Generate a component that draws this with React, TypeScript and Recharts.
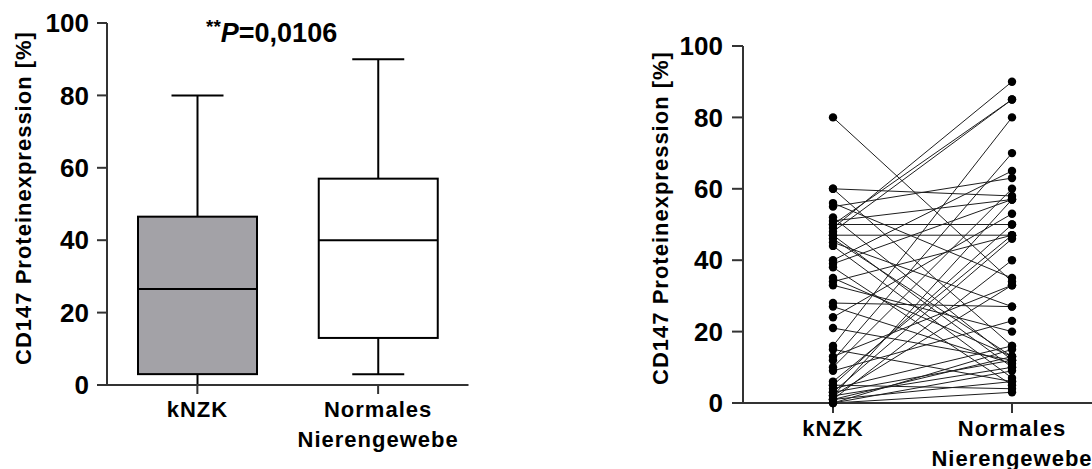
import React from 'react'
import { ComposedChart, LineChart, Bar, Line, XAxis, YAxis } from 'recharts'

// Gruppen und Boxplot-Kennwerte (Min, Q1, Median, Q3, Max) in %
const groups = ['kNZK', 'Normales Nierengewebe']
const boxMin = [0, 3]
const boxQ1 = [3, 13]
const boxMedian = [26.5, 40]
const boxQ3 = [46.5, 57]
const boxMax = [80, 90]
const boxFills = ['#a3a2a7', '#ffffff']

const yTicks = [0, 20, 40, 60, 80, 100]
const pValueText = '=0,0106'

// gepaarte Werte je Patient: Tumor (kNZK) und Normalgewebe
const pairedKnzk = [
  80, 60, 60, 56, 55, 52, 51, 50, 50, 49, 48, 47, 47, 46, 45, 44,
  40, 39, 38, 35, 34, 33, 28, 27, 24, 21, 16, 15, 13, 12, 10, 9,
  6, 5, 5, 4, 3, 3, 2, 2, 2, 1, 1, 1, 0, 0, 0,
]
const pairedNormal = [
  34, 58, 16, 35, 63, 12, 57, 50, 85, 90, 85, 47, 10, 13, 27, 7,
  65, 57, 5, 13, 47, 20, 27, 11, 53, 12, 80, 6, 33, 70, 60, 23,
  47, 4, 50, 16, 46, 12, 57, 33, 10, 40, 13, 6, 3, 9, 15,
]

const FONT = '"Liberation Sans", Arial, Helvetica, sans-serif'
const AXIS = '#333333'
const TITLE = 'CD147 Proteinexpression [%]'

const boxRows = groups.map((g, i) => ({
  group: g,
  min: boxMin[i],
  q1: boxQ1[i],
  median: boxMedian[i],
  q3: boxQ3[i],
  max: boxMax[i],
  fill: boxFills[i],
  iqr: [boxQ1[i], boxQ3[i]],
}))

const pairRows = groups.map((g, gi) => {
  const row: Record<string, string | number> = { group: g }
  const src = gi === 0 ? pairedKnzk : pairedNormal
  src.forEach((v, i) => {
    row[`p${i}`] = v
  })
  return row
})

interface BoxProps {
  x?: number
  y?: number
  width?: number
  height?: number
  payload?: (typeof boxRows)[number]
}

// Box mit Median und Whiskern; Pixel pro Einheit aus der Balkenhoehe (Q1..Q3)
const BoxShape = ({ x = 0, y = 0, width = 0, height = 0, payload }: BoxProps) => {
  if (!payload) return null
  const top = Math.min(y, y + height)
  const h = Math.abs(height)
  const unit = h / (payload.q3 - payload.q1)
  const toY = (v: number) => top + (payload.q3 - v) * unit
  const cx = x + width / 2
  const cap = 26
  return (
    <g stroke="#000" strokeWidth={2}>
      <line x1={cx} x2={cx} y1={toY(payload.q3)} y2={toY(payload.max)} />
      <line x1={cx - cap} x2={cx + cap} y1={toY(payload.max)} y2={toY(payload.max)} />
      <line x1={cx} x2={cx} y1={toY(payload.q1)} y2={toY(payload.min)} />
      <line x1={cx - cap} x2={cx + cap} y1={toY(payload.min)} y2={toY(payload.min)} />
      <rect x={x} y={top} width={width} height={h} fill={payload.fill} />
      <line x1={x} x2={x + width} y1={toY(payload.median)} y2={toY(payload.median)} />
    </g>
  )
}

interface TickProps {
  x?: number
  y?: number
  payload?: { value: string }
}

const GroupTick = ({ x = 0, y = 0, payload }: TickProps) => {
  const words = String(payload?.value ?? '').split(' ')
  return (
    <text
      x={x}
      y={y}
      textAnchor="middle"
      fontFamily={FONT}
      fontWeight="bold"
      fontSize={22}
      letterSpacing={1}
      fill="#000"
    >
      {words.map((w, i) => (
        <tspan key={w} x={x} dy={i === 0 ? 21 : 30}>
          {w}
        </tspan>
      ))}
    </text>
  )
}

const yTickStyle = { fontSize: 26, fontWeight: 'bold', fill: '#000', fontFamily: FONT }

const AxisTitle = ({ x, y }: { x: number; y: number }) => (
  <text
    x={x}
    y={y}
    transform={`rotate(-90 ${x} ${y})`}
    textAnchor="middle"
    dominantBaseline="central"
    fontFamily={FONT}
    fontWeight="bold"
    fontSize={22}
    letterSpacing={1}
    fill="#000"
  >
    {TITLE}
  </text>
)

export default function App() {
  return (
    <div
      style={{
        position: 'absolute',
        left: 0,
        top: 0,
        width: 1092,
        height: 469,
        overflow: 'hidden',
        background: '#fff',
      }}
    >
      <div style={{ position: 'absolute', left: 0, top: 0 }}>
        <ComposedChart
          width={480}
          height={469}
          data={boxRows}
          margin={{ top: 23, right: 11.5, bottom: 24, left: 0 }}
        >
          <XAxis
            dataKey="group"
            height={60}
            tick={<GroupTick />}
            tickSize={9}
            axisLine={{ stroke: AXIS, strokeWidth: 2 }}
            tickLine={{ stroke: AXIS, strokeWidth: 2 }}
            interval={0}
          />
          <YAxis
            width={107}
            domain={[0, 100]}
            ticks={yTicks}
            tick={yTickStyle}
            tickSize={10}
            tickMargin={8}
            axisLine={{ stroke: AXIS, strokeWidth: 2 }}
            tickLine={{ stroke: AXIS, strokeWidth: 2 }}
          />
          <Bar dataKey="iqr" barSize={119} shape={<BoxShape />} isAnimationActive={false} />
          <AxisTitle x={23} y={198} />
          <text x={206} y={42} fontFamily={FONT} fontWeight="bold" fill="#000">
            <tspan fontSize={19} dy={-9}>**</tspan>
            <tspan fontSize={27} fontStyle="italic" dy={9}>P</tspan>
            <tspan fontSize={27}>{pValueText}</tspan>
          </text>
        </ComposedChart>
      </div>

      <div style={{ position: 'absolute', left: 560, top: 0 }}>
        <LineChart
          width={542}
          height={469}
          data={pairRows}
          margin={{ top: 46, right: 0.5, bottom: 6, left: 0 }}
        >
          <XAxis
            dataKey="group"
            height={60}
            padding={{ left: 90, right: 89.5 }}
            tick={<GroupTick />}
            tickSize={10}
            axisLine={{ stroke: AXIS, strokeWidth: 2 }}
            tickLine={{ stroke: AXIS, strokeWidth: 2 }}
            interval={0}
          />
          <YAxis
            width={183}
            domain={[0, 100]}
            ticks={yTicks}
            tick={yTickStyle}
            tickSize={11}
            tickMargin={9}
            axisLine={{ stroke: AXIS, strokeWidth: 2 }}
            tickLine={{ stroke: AXIS, strokeWidth: 2 }}
          />
          {pairedKnzk.map((_, i) => (
            <Line
              key={i}
              dataKey={`p${i}`}
              stroke="#1e1e1e"
              strokeWidth={1}
              dot={{ r: 4.2, fill: '#000', stroke: 'none' }}
              activeDot={false}
              isAnimationActive={false}
            />
          ))}
          <AxisTitle x={100} y={218} />
        </LineChart>
      </div>
    </div>
  )
}
